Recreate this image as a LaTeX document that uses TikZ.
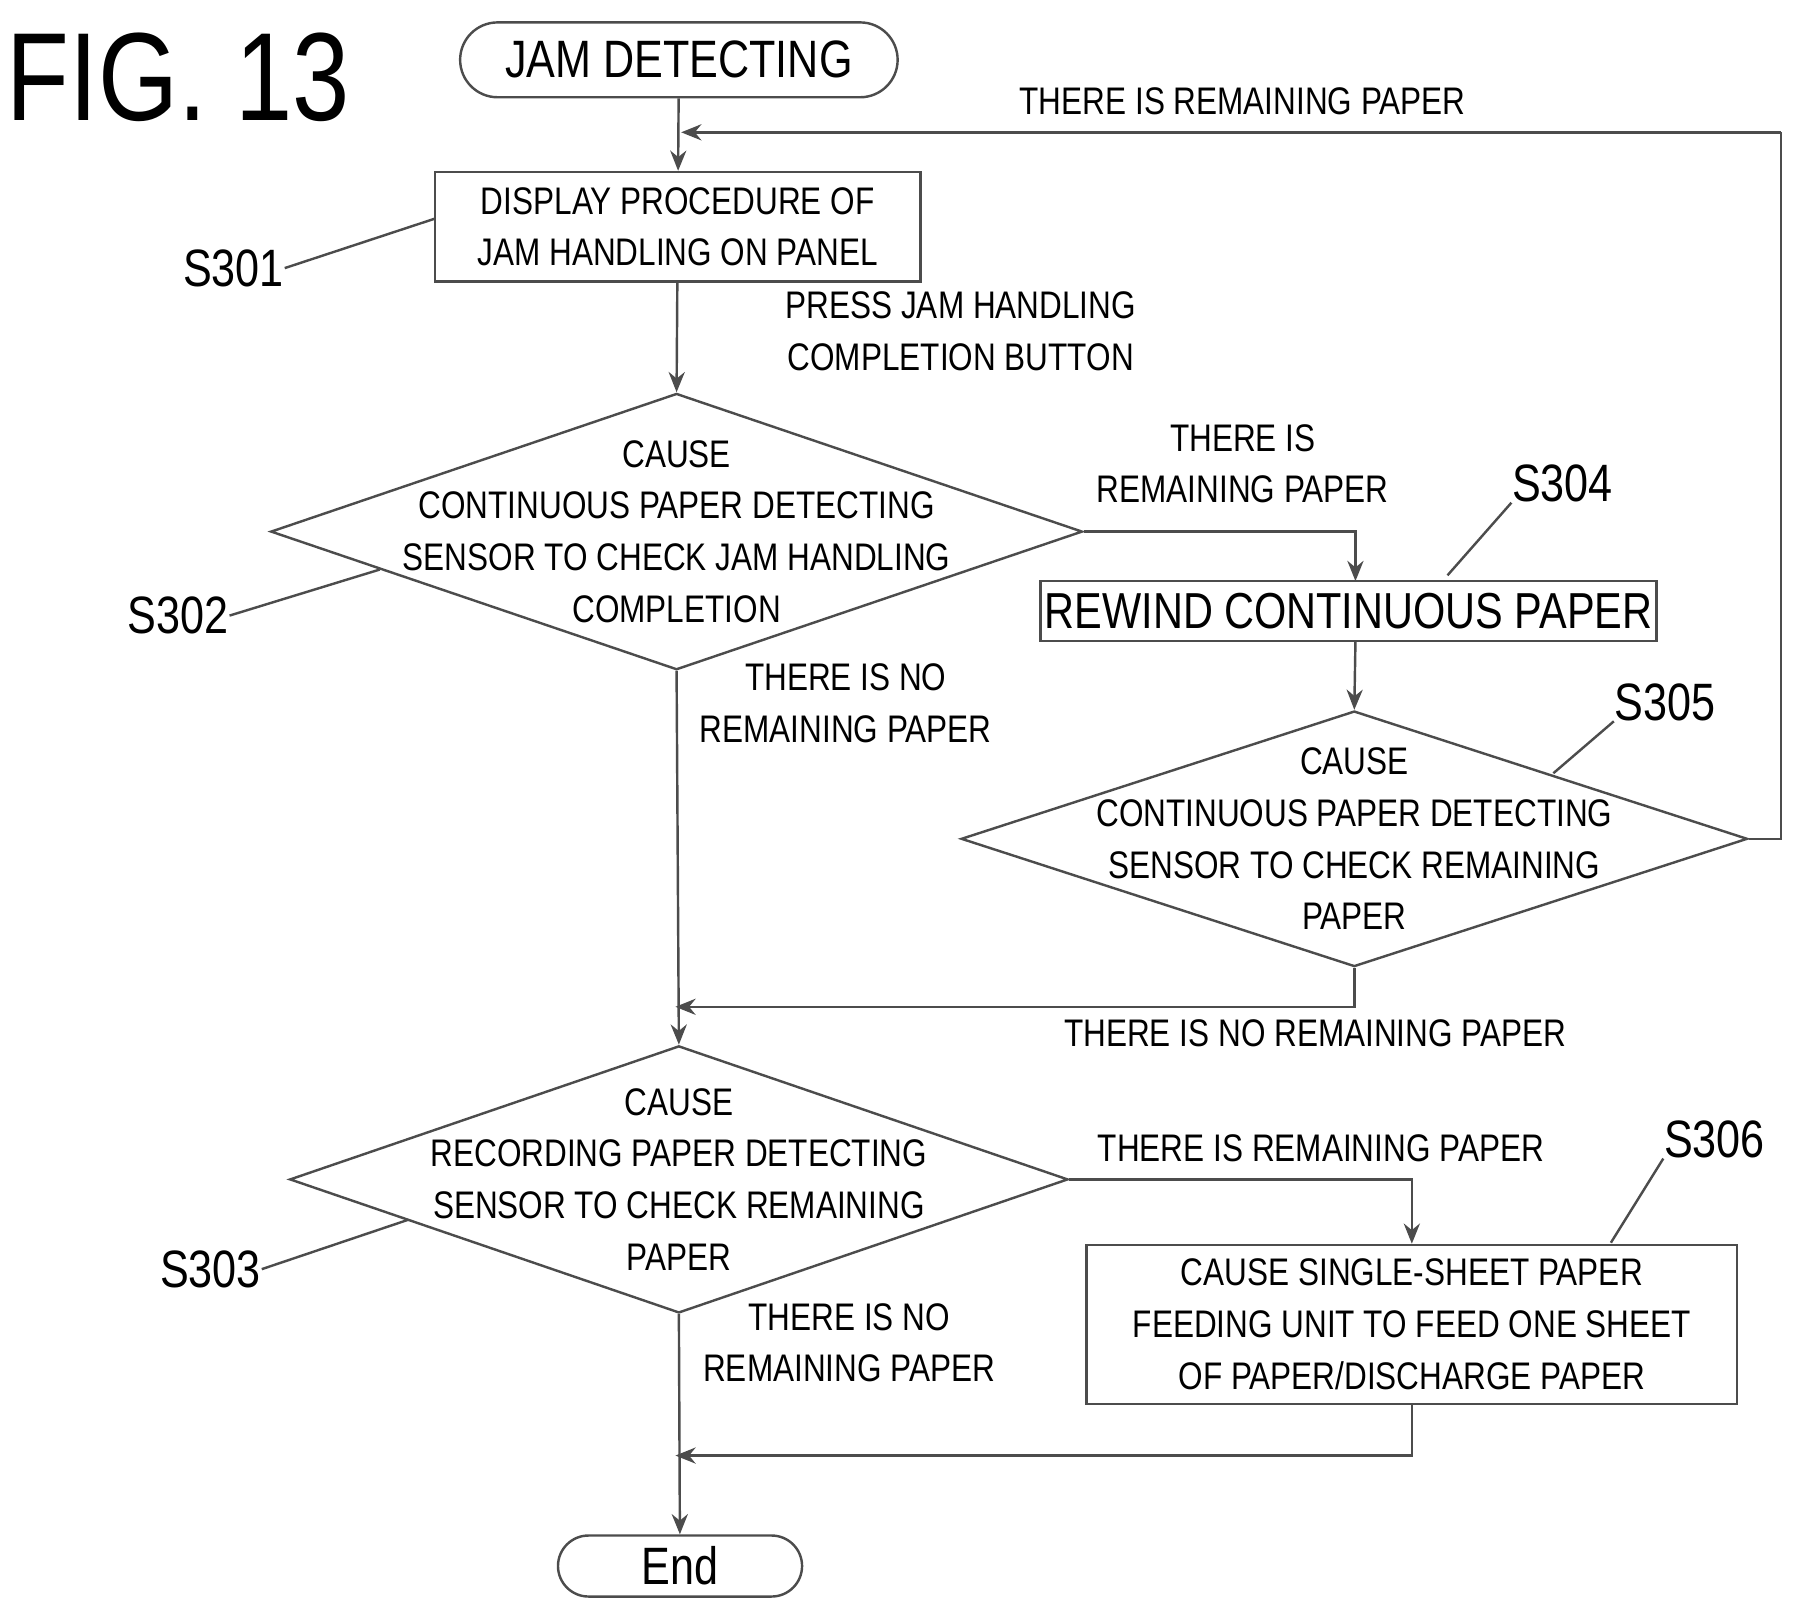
\documentclass[tikz,border=0pt]{standalone}
\usepackage{fontspec}
\setmainfont[FakeStretch=0.82]{Liberation Sans}
\usetikzlibrary{shapes.geometric,shapes.misc,arrows.meta}
\tikzset{
  font={\fontsize{9.5pt}{12.8pt}\selectfont},
  line/.style={draw=black!70, line width=0.6pt},
  arr/.style={line, -{Stealth[length=5pt,width=4pt]}},
  box/.style={line, rectangle, inner sep=0pt},
  term/.style={line, rounded rectangle, inner sep=0pt},
  dia/.style={line, diamond, inner sep=0pt},
  txt/.style={align=center, inner sep=0pt},
  steplbl/.style={font={\fontsize{13pt}{14pt}\selectfont}, inner sep=0pt}}

\begin{document}
\begin{tikzpicture}[x=0.01cm,y=-0.01cm]
\useasboundingbox (0,0) rectangle (1560,1400);
% title
\node[inner sep=0pt, font={\fontsize{31pt}{32pt}\selectfont}] (fig) at (155,67) {FIG. 13};
% nodes
\node[term, minimum width=3.8cm, minimum height=0.65cm, font={\fontsize{13pt}{14pt}\selectfont}] (start) at (590,52) {JAM DETECTING};
\node[box, minimum width=4.22cm, minimum height=0.95cm, align=center] (s301) at (589,197) {DISPLAY PROCEDURE OF\\JAM HANDLING ON PANEL};
\node[dia, minimum width=7.05cm, minimum height=2.4cm] (s302) at (588,462) {};
\node[txt] at (s302) {CAUSE\\CONTINUOUS PAPER DETECTING\\SENSOR TO CHECK JAM HANDLING\\COMPLETION};
\node[box, minimum width=5.35cm, minimum height=0.52cm, font={\fontsize{12.5pt}{14pt}\selectfont}] (s304) at (1172,531) {REWIND CONTINUOUS PAPER};
\node[dia, minimum width=6.83cm, minimum height=2.22cm] (s305) at (1177,729) {};
\node[txt] at (s305) {CAUSE\\CONTINUOUS PAPER DETECTING\\SENSOR TO CHECK REMAINING\\PAPER};
\node[dia, minimum width=6.76cm, minimum height=2.32cm] (s303) at (590,1025) {};
\node[txt] at (s303) {CAUSE\\RECORDING PAPER DETECTING\\SENSOR TO CHECK REMAINING\\PAPER};
\node[box, minimum width=5.65cm, minimum height=1.38cm, align=center] (s306) at (1227,1151) {CAUSE SINGLE-SHEET PAPER\\FEEDING UNIT TO FEED ONE SHEET\\OF PAPER/DISCHARGE PAPER};
\node[term, minimum width=2.12cm, minimum height=0.53cm, font={\fontsize{13pt}{14pt}\selectfont}] (end) at (591,1361) {End};
% step labels
\node[steplbl] (l301) at (203,233) {S301};
\node[steplbl] (l302) at (155,535) {S302};
\node[steplbl] (l303) at (183,1103) {S303};
\node[steplbl] (l304) at (1358,420) {S304};
\node[steplbl] (l305) at (1447,610) {S305};
\node[steplbl] (l306) at (1490,990) {S306};
\draw[line] (l301.east) -- (378,190);
\draw[line] (l302.east) -- (330,495);
\draw[line] (l303.east) -- (355,1060);
\draw[line] (l304.south west) -- (1258,500);
\draw[line] (l305.south west) -- (1350,672);
\draw[line] (l306.south west) -- (1400,1080);
% junctions
\coordinate (j1) at (592,115);
\coordinate (j2) at (592,875);
\coordinate (j3) at (592,1265);
\coordinate (r1) at (1548,729);
\coordinate (r2) at (1548,115);
\coordinate (p4) at (1178,505);
\coordinate (q4) at (1178,557);
% connectors
\draw[arr] (start) -- (s301);
\draw[arr] (s301) -- (s302.north);
\draw[arr] (s302.east) -| (p4);
\draw[arr] (q4) -- (s305.north);
\draw[line] (s305.east) -- (r1) -- (r2);
\draw[arr] (r2) -- (j1);
\draw[line] (s305.south) |- (j2);
\draw[arr] (j2) -- ++(-5,0);
\draw[arr] (s302.south) -- (s303.north);
\draw[arr] (s303.east) -| (s306.north);
\draw[line] (s306.south) |- (j3);
\draw[arr] (j3) -- ++(-5,0);
\draw[arr] (s303.south) -- (end);
% branch texts
\node[txt] (t1) at (1080,88) {THERE IS REMAINING PAPER};
\node[txt] (t2) at (835,288) {PRESS JAM HANDLING\\COMPLETION BUTTON};
\node[txt] (t3) at (1080,403) {THERE IS\\REMAINING PAPER};
\node[txt] (t4) at (735,611) {THERE IS NO\\REMAINING PAPER};
\node[txt] (t5) at (1143,898) {THERE IS NO REMAINING PAPER};
\node[txt] (t6) at (1148,998) {THERE IS REMAINING PAPER};
\node[txt] (t7) at (738,1167) {THERE IS NO\\REMAINING PAPER};
\end{tikzpicture}
\end{document}
